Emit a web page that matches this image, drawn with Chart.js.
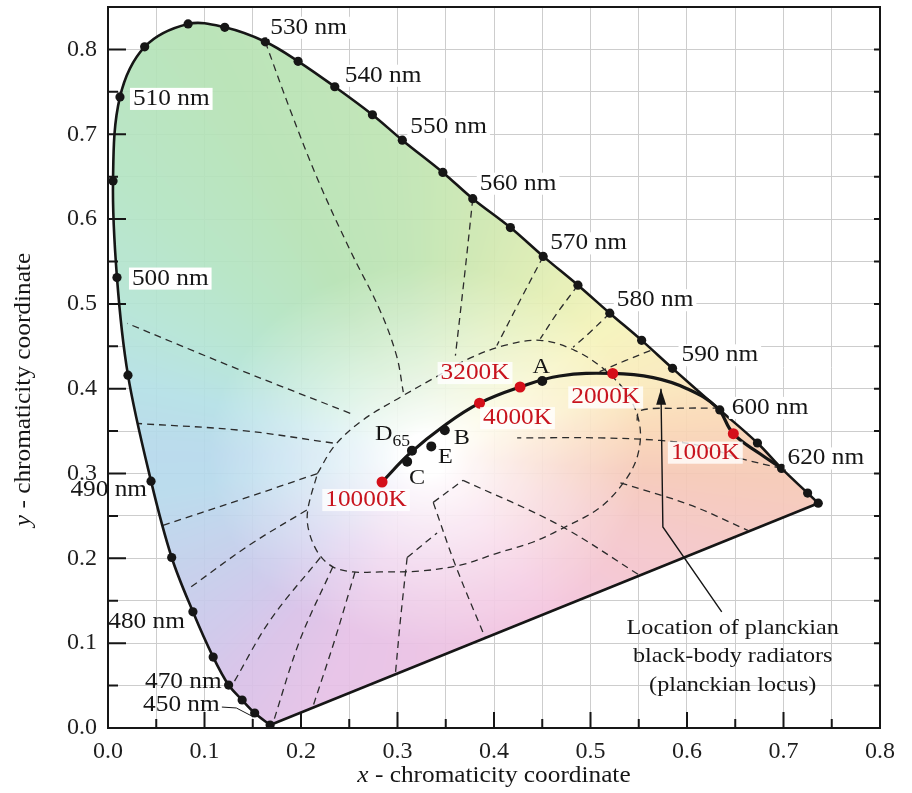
<!DOCTYPE html>
<html>
<head>
<meta charset="utf-8">
<title>CIE 1931 chromaticity diagram</title>
<script src="https://cdn.jsdelivr.net/npm/chart.js@4.4.1/dist/chart.umd.min.js"></script>
<style>
  html, body { margin: 0; padding: 0; background: #fff; }
  canvas { display: block; }
</style>
</head>
<body>
<canvas id="cie" width="912" height="793"></canvas>
<script>
"use strict";

// ── Spectral locus (dots) ──
const wavelengths = [380, 450, 460, 470, 475, 480, 485, 490, 495, 500, 505, 510, 515, 520, 525, 530, 535,
                     540, 545, 550, 555, 560, 565, 570, 575, 580, 585, 590, 600, 610, 620, 640, 700];
const locusX = [0.168, 0.152, 0.139, 0.125, 0.109, 0.088, 0.066, 0.0446, 0.0207, 0.0093, 0.0052, 0.0124, 0.038,
                0.083, 0.121, 0.163, 0.197, 0.235, 0.274, 0.305, 0.347, 0.378, 0.417, 0.451, 0.487, 0.520,
                0.553, 0.585, 0.634, 0.673, 0.698, 0.725, 0.736];
const locusY = [0.0035, 0.0177, 0.033, 0.0506, 0.0836, 0.137, 0.201, 0.291, 0.416, 0.531, 0.645, 0.744, 0.803,
                0.830, 0.826, 0.809, 0.786, 0.756, 0.723, 0.693, 0.655, 0.624, 0.590, 0.556, 0.522, 0.489,
                0.457, 0.424, 0.375, 0.336, 0.306, 0.277, 0.265];

// ── Planckian locus ──
const planckX = [0.284, 0.313, 0.349, 0.385, 0.427, 0.468, 0.523, 0.565, 0.600, 0.631, 0.648, 0.676, 0.697];
const planckY = [0.290, 0.324, 0.357, 0.383, 0.402, 0.415, 0.418, 0.413, 0.400, 0.378, 0.347, 0.323, 0.307];

const tempLabels = ["10000K", "4000K", "3200K", "2000K", "1000K"];
const tempX      = [0.284, 0.385, 0.427, 0.523, 0.648];
const tempY      = [0.290, 0.383, 0.402, 0.418, 0.347];

const illumNames = ["A", "B", "E", "D65", "C"];
const illumX     = [0.450, 0.349, 0.335, 0.315, 0.310];
const illumY     = [0.409, 0.351, 0.332, 0.327, 0.314];

// ── Dashed colour-region boundaries ──
const whiteRegion = [[0.217, 0.300], [0.235, 0.333], [0.264, 0.363], [0.303, 0.390], [0.337, 0.412],
  [0.375, 0.436], [0.411, 0.451], [0.448, 0.457], [0.484, 0.445], [0.515, 0.422], [0.539, 0.392],
  [0.551, 0.357], [0.549, 0.322], [0.536, 0.292], [0.510, 0.260], [0.472, 0.236], [0.440, 0.219],
  [0.403, 0.206], [0.365, 0.192], [0.323, 0.185], [0.282, 0.184], [0.254, 0.184], [0.233, 0.190],
  [0.218, 0.206], [0.208, 0.233], [0.207, 0.257], [0.217, 0.300]];
const boundaryLines = [
  [[0.163, 0.809], [0.189, 0.728], [0.218, 0.645], [0.251, 0.563], [0.282, 0.492], [0.299, 0.439], [0.306, 0.396]],
  [[0.378, 0.624], [0.370, 0.539], [0.360, 0.439]],
  [[0.451, 0.556], [0.427, 0.504], [0.403, 0.451]],
  [[0.487, 0.522], [0.466, 0.490], [0.448, 0.459]],
  [[0.520, 0.489], [0.499, 0.466], [0.482, 0.449]],
  [[0.562, 0.445], [0.536, 0.433], [0.507, 0.419]],
  [[0.634, 0.377], [0.593, 0.377], [0.551, 0.374], [0.548, 0.361]],
  [[0.698, 0.306], [0.655, 0.318], [0.613, 0.333], [0.572, 0.339], [0.510, 0.342], [0.424, 0.342]],
  [[0.531, 0.289], [0.603, 0.263], [0.663, 0.233]],
  [[0.368, 0.292], [0.468, 0.239], [0.551, 0.180]],
  [[0.337, 0.266], [0.360, 0.192], [0.391, 0.106]],
  [[0.337, 0.266], [0.368, 0.292]],
  [[0.310, 0.201], [0.341, 0.230]],
  [[0.310, 0.201], [0.303, 0.127], [0.298, 0.066]],
  [[0.256, 0.184], [0.235, 0.104], [0.212, 0.024]],
  [[0.233, 0.190], [0.199, 0.104], [0.171, 0.006]],
  [[0.220, 0.201], [0.168, 0.127], [0.130, 0.053]],
  [[0.206, 0.257], [0.147, 0.216], [0.082, 0.163]],
  [[0.217, 0.300], [0.137, 0.269], [0.057, 0.239]],
  [[0.233, 0.336], [0.137, 0.351], [0.031, 0.359]],
  [[0.251, 0.371], [0.137, 0.422], [0.020, 0.477]],
];

// ── Annotation pointer & 450 nm leader ──
const arrowPath  = [[0.573, 0.400], [0.575, 0.237], [0.636, 0.137]];
const leader450  = [[0.118, 0.0247], [0.133, 0.0236], [0.149, 0.0141], [0.152, 0.0177]];
const noteLines  = ["Location of planckian", "black-body radiators", "(planckian locus)"];

// ── Axes ──
const xMajor = [0, 0.1, 0.2, 0.3, 0.4, 0.5, 0.6, 0.7, 0.8];
const xMinor = [0.05, 0.15, 0.25, 0.35, 0.45, 0.55, 0.65, 0.75];
const yMajor = [0, 0.1, 0.2, 0.3, 0.4, 0.5, 0.6, 0.7, 0.8];
const yMinor = [0.05, 0.15, 0.25, 0.35, 0.45, 0.55, 0.65, 0.75];

// ── Label layout (pixel offsets from the marked point) ──
const nmLayout = {
  530: [5, -14, "left"],  540: [10, -11, "left"], 550: [8, -13, "left"], 560: [7, -15, "left"],
  570: [7, -13, "left"],  580: [7, -13, "left"],  590: [9, -13, "left"], 600: [12, -2, "left"],
  620: [6, -10, "left"],  510: [13, 2, "left"],   500: [15, 1, "left"],
  490: [-4, 9, "right"],  480: [-8, 10, "right"], 470: [-7, -3, "right"], 450: [-35, -8, "right"],
};
const tempLayout  = { "10000K": [-16, 18], "4000K": [38, 15], "3200K": [-45, -14], "2000K": [-7, 24], "1000K": [-28, 19] };
const illumLayout = { A: [-1, -14], B: [17, 8], E: [14, 11], D65: [-37, -16], C: [10, 17] };

// ── Pastel tint by hue angle round the white centre (degrees → rgb) ──
const tintAngles = [-180, -172, -140, -124, -110, -55, -20, -5, 8, 20, 38, 58, 78, 95, 115, 135, 150, 165, 180];
const tintColors = [
  [182, 216, 236], [182, 218, 236], [202, 200, 235], [218, 192, 232], [230, 192, 230], [244, 196, 222],
  [245, 198, 198], [246, 200, 182], [250, 216, 182], [250, 234, 188], [246, 243, 186], [226, 238, 178],
  [206, 232, 176], [190, 228, 178], [182, 226, 180], [180, 228, 196], [180, 228, 212], [180, 224, 230],
  [182, 216, 236]];
const WHITE_CENTRE = [0.33, 0.322];

const SERIF   = '"Liberation Serif", "DejaVu Serif", serif';
const STRETCH = 1.1;
const RED     = "#c8141e";
const INK     = "#161616";

const pts = (xs, ys) => xs.map((x, i) => ({ x, y: ys[i] }));
const pairs = arr => arr.map(([x, y]) => ({ x, y }));
const isMajor = v => Math.abs(v * 10 - Math.round(v * 10)) < 1e-6;

// ── Helpers ──
function drawText(ctx, text, x, y, o = {}) {
  const size  = o.size  ?? 23;
  const align = o.align ?? "center";
  ctx.save();
  ctx.font = `${o.italic ? "italic " : ""}${size}px ${SERIF}`;
  ctx.textBaseline = "middle";
  const w = ctx.measureText(text).width * STRETCH;
  const left = align === "left" ? x : align === "right" ? x - w : x - w / 2;
  if (o.bg) {
    ctx.fillStyle = o.bg;
    ctx.fillRect(left - 3, y - size * 0.48, w + 6, size * 0.96);
  }
  ctx.translate(left, y);
  ctx.scale(STRETCH, 1);
  ctx.fillStyle = o.color ?? INK;
  ctx.fillText(text, 0, 0);
  ctx.restore();
  return w;
}

function chromaColor(cx, cy) {
  const dx = cx - WHITE_CENTRE[0], dy = cy - WHITE_CENTRE[1];
  const ang = Math.atan2(dy, dx) * 180 / Math.PI;
  let i = 0;
  while (i < tintAngles.length - 2 && tintAngles[i + 1] < ang) i++;
  const t = (ang - tintAngles[i]) / (tintAngles[i + 1] - tintAngles[i]);
  const c = tintColors[i].map((v, k) => v + (tintColors[i + 1][k] - v) * t);
  const d = Math.hypot(dx, dy);
  const s = Math.pow(Math.min(1, Math.max(0, (d - 0.025) / 0.2)), 0.85);
  return c.map(v => 255 + (v - 255) * s);
}

function paintGamut(chart) {
  const { chartArea: a, scales: { x, y } } = chart;
  const off = document.createElement("canvas");
  off.width = chart.width; off.height = chart.height;
  const octx = off.getContext("2d");
  const w = Math.ceil(a.right - a.left), h = Math.ceil(a.bottom - a.top);
  const img = octx.createImageData(w, h);
  for (let j = 0; j < h; j++) {
    const cy = y.getValueForPixel(a.top + j + 0.5);
    for (let i = 0; i < w; i++) {
      const cx = x.getValueForPixel(a.left + i + 0.5);
      const p = (j * w + i) * 4;
      const [r, g, b] = chromaColor(cx, cy);
      img.data[p] = r; img.data[p + 1] = g; img.data[p + 2] = b; img.data[p + 3] = 255;
    }
  }
  octx.putImageData(img, Math.round(a.left), Math.round(a.top));
  return off;
}

// ── Plugins ──
const gamutFill = {
  id: "gamutFill",
  beforeDatasetsDraw(chart) {
    const { ctx, chartArea: a } = chart;
    const meta = chart.getDatasetMeta(0);
    if (!chart.$gamut) chart.$gamut = paintGamut(chart);
    ctx.save();
    ctx.beginPath();
    if (meta.dataset && typeof meta.dataset.path === "function") {
      meta.dataset.updateControlPoints(a, "x");
      meta.dataset.path(ctx);
    } else {
      meta.data.forEach((p, i) => (i ? ctx.lineTo(p.x, p.y) : ctx.moveTo(p.x, p.y)));
    }
    ctx.closePath();
    ctx.clip();
    ctx.globalAlpha = 0.92;
    ctx.drawImage(chart.$gamut, 0, 0);
    ctx.restore();
  },
};

const frameAndTicks = {
  id: "frameAndTicks",
  afterDatasetsDraw(chart) {
    const { ctx, chartArea: a, scales: { x, y } } = chart;
    ctx.save();
    ctx.strokeStyle = INK;
    ctx.lineWidth = 2;
    ctx.strokeRect(a.left, a.top, a.right - a.left, a.bottom - a.top);
    ctx.beginPath();
    const tick = (x0, y0, x1, y1) => { ctx.moveTo(x0, y0); ctx.lineTo(x1, y1); };
    xMajor.forEach(v => { const px = x.getPixelForValue(v); tick(px, a.bottom, px, a.bottom - 16); });
    xMinor.forEach(v => { const px = x.getPixelForValue(v); tick(px, a.bottom, px, a.bottom - 9); });
    yMajor.forEach(v => { const py = y.getPixelForValue(v); tick(a.left, py, a.left + 18, py); });
    yMinor.forEach(v => { const py = y.getPixelForValue(v); tick(a.left, py, a.left + 10, py); });
    [...yMajor, ...yMinor].forEach(v => { const py = y.getPixelForValue(v); tick(a.right, py, a.right - 6, py); });
    ctx.stroke();

    // arrow head at the tip of the pointer
    const am = chart.getDatasetMeta(chart.data.datasets.findIndex(d => d.label === "pointer"));
    const [tip, next] = am.data;
    const ang = Math.atan2(tip.y - next.y, tip.x - next.x);
    ctx.fillStyle = INK;
    ctx.beginPath();
    ctx.moveTo(tip.x, tip.y);
    ctx.lineTo(tip.x - 16 * Math.cos(ang) + 5 * Math.sin(ang), tip.y - 16 * Math.sin(ang) - 5 * Math.cos(ang));
    ctx.lineTo(tip.x - 16 * Math.cos(ang) - 5 * Math.sin(ang), tip.y - 16 * Math.sin(ang) + 5 * Math.cos(ang));
    ctx.closePath();
    ctx.fill();
    ctx.restore();
  },
};

const textLabels = {
  id: "textLabels",
  afterDraw(chart) {
    const { ctx, scales: { x, y } } = chart;
    // wavelength labels
    Object.entries(nmLayout).forEach(([nm, [dx, dy, align]]) => {
      const i = wavelengths.indexOf(+nm);
      const px = x.getPixelForValue(locusX[i]), py = y.getPixelForValue(locusY[i]);
      const bg = align === "left" ? "#fff" : null;
      drawText(ctx, `${nm} nm`, px + dx, py + dy, { align, bg });
    });
    // colour temperatures
    tempLabels.forEach((t, i) => {
      const [dx, dy] = tempLayout[t];
      drawText(ctx, t, x.getPixelForValue(tempX[i]) + dx, y.getPixelForValue(tempY[i]) + dy,
        { color: RED, bg: "rgba(255,255,255,0.8)" });
    });
    // illuminants
    illumNames.forEach((n, i) => {
      const [dx, dy] = illumLayout[n];
      const px = x.getPixelForValue(illumX[i]) + dx, py = y.getPixelForValue(illumY[i]) + dy;
      if (n === "D65") {
        const w = drawText(ctx, "D", px, py, { align: "left", size: 22 });
        drawText(ctx, "65", px + w, py + 7, { align: "left", size: 16 });
      } else {
        drawText(ctx, n, px, py, { size: 22 });
      }
    });
    // pointer note
    const nx = x.getPixelForValue(arrowPath[2][0]) + 11;
    const ny = y.getPixelForValue(arrowPath[2][1]) + 16;
    noteLines.forEach((t, k) => drawText(ctx, t, nx, ny + k * 28.5, { size: 22 }));

    // axis titles
    ctx.save();
    ctx.font = `23px ${SERIF}`;
    const rest = " - chromaticity coordinate";
    const restW = ctx.measureText(rest).width;
    ctx.font = `italic 23px ${SERIF}`;
    const vW = ctx.measureText("x").width;
    ctx.restore();
    const tw = (vW + restW) * STRETCH;
    const cx = (chart.chartArea.left + chart.chartArea.right) / 2;
    drawText(ctx, "x", cx - tw / 2, 776, { align: "left", italic: true });
    drawText(ctx, rest, cx - tw / 2 + vW * STRETCH, 776, { align: "left" });

    ctx.save();
    ctx.translate(24, (chart.chartArea.top + chart.chartArea.bottom) / 2 + 22);
    ctx.rotate(-Math.PI / 2);
    drawText(ctx, "y", -tw / 2, 0, { align: "left", italic: true });
    drawText(ctx, rest, -tw / 2 + vW * STRETCH, 0, { align: "left" });
    ctx.restore();
  },
};

// ── Datasets ──
const dashed = (data) => ({
  data, borderColor: "#2b2b2b", borderWidth: 1.3, borderDash: [7, 5], pointRadius: 0,
  tension: 0.35, fill: false, order: 6,
});

const datasets = [
  { label: "locus", data: pts(locusX, locusY), borderColor: INK, borderWidth: 2.6, tension: 0.35,
    pointRadius: 4.6, pointBackgroundColor: INK, pointBorderWidth: 0, fill: false, order: 2 },
  { label: "purple line", data: [{ x: locusX[locusX.length - 1], y: locusY[locusY.length - 1] }, { x: locusX[0], y: locusY[0] }],
    borderColor: INK, borderWidth: 2.6, pointRadius: 0, fill: false, order: 2 },
  { label: "planckian", data: pts(planckX, planckY), borderColor: INK, borderWidth: 3.2, tension: 0.4,
    pointRadius: 0, fill: false, order: 1 },
  { label: "temps", data: pts(tempX, tempY), showLine: false, pointRadius: 5.5,
    pointBackgroundColor: "#d40f1a", pointBorderWidth: 0, order: 0 },
  { label: "illuminants", data: pts(illumX, illumY), showLine: false, pointRadius: 5,
    pointBackgroundColor: INK, pointBorderWidth: 0, order: 0 },
  { label: "pointer", data: pairs(arrowPath), borderColor: INK, borderWidth: 1.4, pointRadius: 0,
    tension: 0, fill: false, order: 0 },
  { label: "leader", data: pairs(leader450), borderColor: INK, borderWidth: 1, pointRadius: 0,
    tension: 0, fill: false, order: 0 },
  dashed(pairs(whiteRegion)),
  ...boundaryLines.map(l => dashed(pairs(l))),
];

const tickFont = { family: SERIF, size: 24 };

new Chart(document.getElementById("cie"), {
  type: "line",
  data: { datasets },
  options: {
    responsive: false,
    animation: false,
    events: [],
    layout: { padding: { left: 0, right: 32, top: 7, bottom: 0 } },
    plugins: { legend: { display: false }, tooltip: { enabled: false } },
    scales: {
      x: {
        type: "linear", min: 0, max: 0.8,
        grid: { color: "#cdcdcd", lineWidth: 1, drawTicks: false },
        border: { display: false },
        ticks: { stepSize: 0.05, autoSkip: false, maxRotation: 0, padding: 9, color: "#1e1e1e", font: tickFont,
                 callback: v => (isMajor(v) ? v.toFixed(1) : "") },
        afterFit: s => { s.height = 65; s.paddingLeft = 0; s.paddingRight = 0; },
      },
      y: {
        type: "linear", min: 0, max: 0.85,
        grid: { color: "#cdcdcd", lineWidth: 1, drawTicks: false },
        border: { display: false },
        ticks: { stepSize: 0.05, autoSkip: false, padding: 11, color: "#1e1e1e", font: tickFont,
                 callback: v => (isMajor(v) && v < 0.81 ? v.toFixed(1) : "") },
        afterFit: s => { s.width = 108; s.paddingTop = 0; s.paddingBottom = 0; },
      },
    },
  },
  plugins: [gamutFill, frameAndTicks, textLabels],
});
</script>
</body>
</html>
